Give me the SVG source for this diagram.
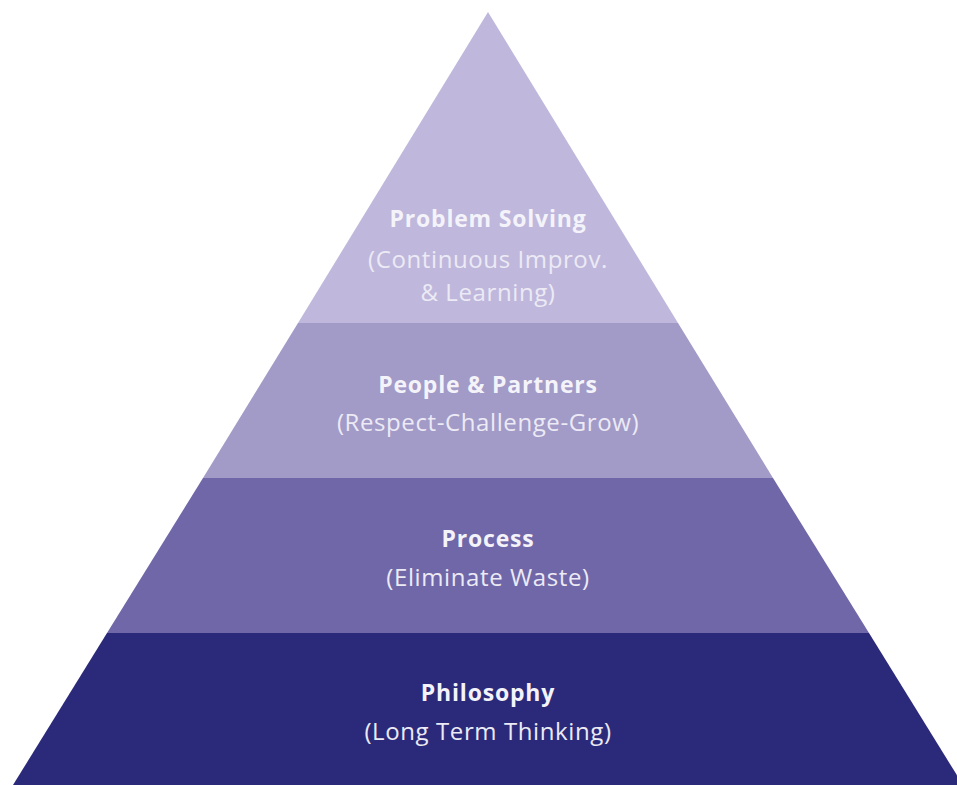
<svg xmlns="http://www.w3.org/2000/svg" width="957" height="785" viewBox="0 0 957 785">
<style>
.t{font-family:"Open Sans","Liberation Sans",sans-serif;font-weight:700;font-size:23px;letter-spacing:0.8px;fill:#f4f3fa;text-anchor:middle}
.s{font-family:"Open Sans","Liberation Sans",sans-serif;font-weight:400;font-size:24px;letter-spacing:0.6px;fill:#eceaf5;text-anchor:middle}
</style>
<rect width="957" height="785" fill="#ffffff"/>
<g id="problem-solving">
<polygon points="488,12 678,323 298,323" fill="#bfb8dc"/>
<text class="t" x="488" y="227">Problem Solving</text>
<text class="s" x="488" y="268">(Continuous Improv.</text>
<text class="s" x="488" y="301">&amp; Learning)</text>
</g>
<g id="people-partners">
<polygon points="298,323 678,323 773,478 203,478" fill="#a29ac7"/>
<text class="t" x="488" y="393">People &amp; Partners</text>
<text class="s" x="488" y="431">(Respect-Challenge-Grow)</text>
</g>
<g id="process">
<polygon points="203,478 773,478 869,633 107,633" fill="#6f67a8"/>
<text class="t" x="488" y="547">Process</text>
<text class="s" x="488" y="586">(Eliminate Waste)</text>
</g>
<g id="philosophy">
<polygon points="107,633 869,633 963,785 13,785" fill="#2b2a7a"/>
<text class="t" x="488" y="701">Philosophy</text>
<text class="s" x="488" y="740">(Long Term Thinking)</text>
</g>
<g id="connectors"></g>
</svg>
